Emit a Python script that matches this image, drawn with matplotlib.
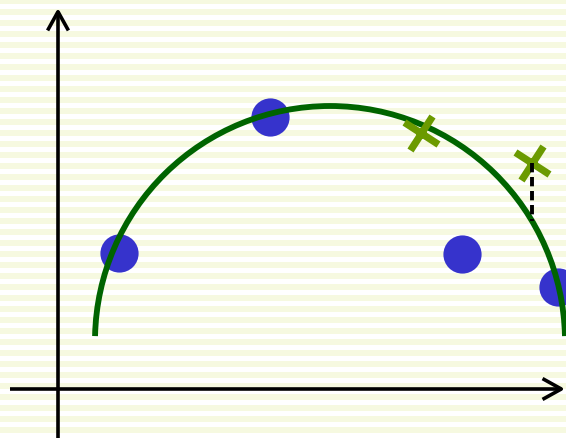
import matplotlib
matplotlib.use("Agg")
import matplotlib.pyplot as plt
import numpy as np
from matplotlib.markers import MarkerStyle
from matplotlib.patches import Arc
from matplotlib.transforms import Affine2D

# data points (units of the drawn axes, origin at the axis crossing)
dot_x = [1.21, 4.24, 8.08, 10.0]
dot_y = [2.73, 5.44, 2.70, 2.05]

cross_x = [7.26, 9.48]
cross_y = [5.11, 4.53]

# fitted arc
arc_center = (5.44, 0.96)
arc_radius = 4.7
arc_theta = (1.2, 178.8)

# residual drawn for the second cross
residual_index = 1

W, H = 566, 438
fig = plt.figure(figsize=(W / 100, H / 100), dpi=100)
fig.patch.set_facecolor("white")

# striped background in its own axes (pixel rows, top down)
bg = fig.add_axes([0, 0, 1, 1], zorder=0)
bg.set_xlim(0, W)
bg.set_ylim(H, 0)
bg.axis("off")
for top in range(-2, H, 11):
    bg.axhspan(top, top + 5.5, color="#f6f9e0", lw=0)

ax = fig.add_axes([0, 0, 1, 1], zorder=1)
ax.set_xlim(-58 / 50, (W - 58) / 50)
ax.set_ylim((389 - H) / 50, 389 / 50)
ax.set_aspect("equal")
ax.axis("off")
ax.patch.set_alpha(0)

# axes arrows
arrow = dict(arrowstyle="->,head_length=1.35,head_width=0.75", lw=2.6,
             color="black", shrinkA=0, shrinkB=0, joinstyle="round",
             capstyle="butt")
ax.annotate("", xy=(0, 7.62), xytext=(0, -0.98), arrowprops=arrow)
ax.annotate("", xy=(10.14, 0), xytext=(-0.96, 0), arrowprops=arrow)

ax.plot(dot_x, dot_y, "o", color="#3633cc", markersize=27.5,
        markeredgewidth=0, zorder=3, clip_on=False)

ax.add_patch(Arc(arc_center, 2 * arc_radius, 2 * arc_radius,
                 theta1=arc_theta[0], theta2=arc_theta[1],
                 color="#006400", lw=4.2, zorder=4, capstyle="butt"))

rot_x = MarkerStyle("x", transform=Affine2D().rotate_deg(13))
ax.plot(cross_x, cross_y, linestyle="none", marker=rot_x, color="#6b9a00",
        markersize=21, markeredgewidth=5.2, zorder=5)

rx = cross_x[residual_index]
ry = cross_y[residual_index]
fit_y = arc_center[1] + np.sqrt(arc_radius ** 2 - (rx - arc_center[0]) ** 2)
ax.plot([rx, rx], [ry, fit_y], color="black", lw=2.8, dashes=(2.4, 1.2),
        zorder=6, solid_capstyle="butt", dash_capstyle="butt")

fig.savefig("out.png", dpi=100)
